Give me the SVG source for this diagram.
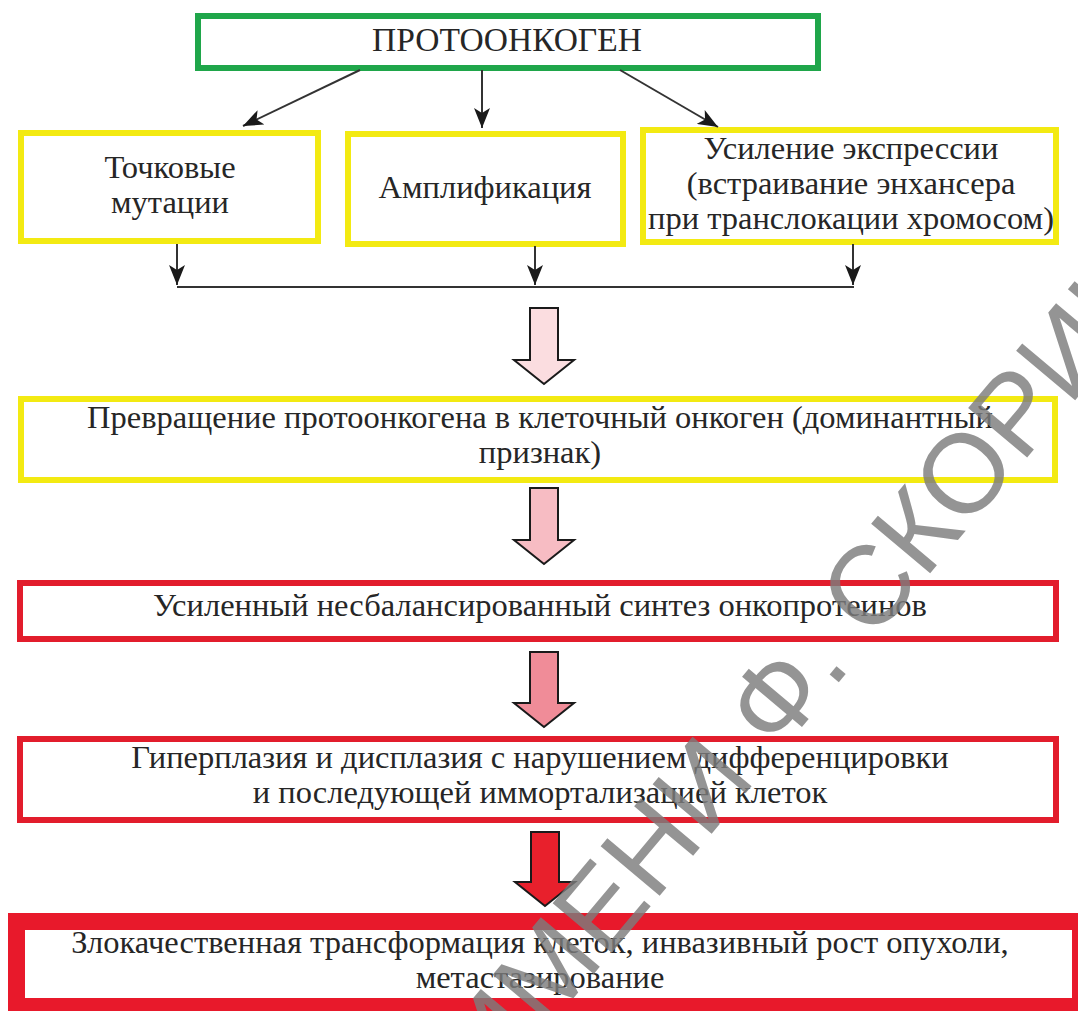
<svg xmlns="http://www.w3.org/2000/svg" width="1078" height="1011" viewBox="0 0 1078 1011">
  <style>
    .txt { font-family: "Liberation Serif", "Times New Roman", serif; font-size: 32.5px; fill: #262626; text-anchor: middle; }
    .title { font-size: 33.5px; }
    .box { fill: #ffffff; }
    .green { stroke: #1fa64a; stroke-width: 6; }
    .yellow { stroke: #f3ea12; stroke-width: 6; }
    .red { stroke: #e21d2c; stroke-width: 6; }
    .red-heavy { stroke: #e8192b; stroke-width: 17; }
    .thin { stroke: #333333; stroke-width: 2; fill: none; }
    .big { stroke: #1a1a1a; stroke-width: 2; stroke-linejoin: miter; }
    .mark { font-family: "Liberation Sans", Arial, sans-serif; font-size: 112px; fill: #7c7c7c; fill-opacity: 0.82; }
  </style>
  <defs>
    <marker id="head" viewBox="0 0 20 16" refX="20" refY="8" markerWidth="20" markerHeight="16" markerUnits="userSpaceOnUse" orient="auto">
      <path d="M0,0 L20,8 L0,16 L5,8 Z" fill="#1a1a1a"/>
    </marker>
  </defs>

  <rect width="1078" height="1011" fill="#ffffff"/>

  <!-- nodes -->
  <g id="protooncogene">
    <rect class="box green" x="198" y="16" width="620" height="52"/>
    <text class="txt title" x="507" y="51">ПРОТООНКОГЕН</text>
  </g>
  <g id="point-mutations">
    <rect class="box yellow" x="21" y="133" width="297" height="108"/>
    <text class="txt" x="170" y="178">Точковые</text>
    <text class="txt" x="170" y="213">мутации</text>
  </g>
  <g id="amplification">
    <rect class="box yellow" x="348" y="134" width="275" height="110"/>
    <text class="txt" x="485" y="198">Амплификация</text>
  </g>
  <g id="expression">
    <rect class="box yellow" x="643" y="130" width="413" height="112"/>
    <text class="txt" x="851" y="159">Усиление экспрессии</text>
    <text class="txt" x="851" y="194">(встраивание энхансера</text>
    <text class="txt" x="851" y="229">при транслокации хромосом)</text>
  </g>
  <g id="cell-oncogene">
    <rect class="box yellow" x="21" y="399" width="1034" height="81"/>
    <text class="txt" x="540" y="428">Превращение протоонкогена в клеточный онкоген (доминантный</text>
    <text class="txt" x="540" y="463">признак)</text>
  </g>
  <g id="oncoprotein-synthesis">
    <rect class="box red" x="20" y="583" width="1036" height="56"/>
    <text class="txt" x="540" y="616">Усиленный несбалансированный синтез онкопротеинов</text>
  </g>
  <g id="hyperplasia">
    <rect class="box red" x="20" y="739" width="1036" height="81"/>
    <text class="txt" x="540" y="768">Гиперплазия и дисплазия с нарушением дифференцировки</text>
    <text class="txt" x="540" y="803">и последующей иммортализацией клеток</text>
  </g>
  <g id="malignant">
    <rect class="box red-heavy" x="16.5" y="921.5" width="1064" height="85"/>
    <text class="txt" x="540" y="953">Злокачественная трансформация клеток, инвазивный рост опухоли,</text>
    <text class="txt" x="540" y="988">метастазирование</text>
  </g>

  <!-- connectors -->
  <g id="connectors">
    <line class="thin" x1="360" y1="70" x2="243" y2="126" marker-end="url(#head)"/>
    <line class="thin" x1="482" y1="70" x2="482" y2="128" marker-end="url(#head)"/>
    <line class="thin" x1="620" y1="70" x2="718" y2="127" marker-end="url(#head)"/>

    <line class="thin" x1="177" y1="244" x2="177" y2="285" marker-end="url(#head)"/>
    <line class="thin" x1="535" y1="246" x2="535" y2="285" marker-end="url(#head)"/>
    <line class="thin" x1="853" y1="244" x2="853" y2="285" marker-end="url(#head)"/>
    <line class="thin" x1="177" y1="287" x2="854" y2="287"/>

    <path class="big" fill="#fbdde0" d="M530,308 H558 V360 H574 L544,384 L514,360 H530 Z"/>
    <path class="big" fill="#f7bcc3" d="M530,488 H558 V540 H574 L544,564 L514,540 H530 Z"/>
    <path class="big" fill="#f08c98" d="M530,652 H558 V703 H574 L544,727 L514,703 H530 Z"/>
    <path class="big" fill="#e8202c" d="M531,832 H559 V882 H575 L545,906 L515,882 H531 Z"/>
  </g>

  <!-- library stamp across the page -->
  <text class="mark" transform="translate(494,1093) rotate(-50)">ИМЕНИ Ф. СКОРИНЫ</text>
</svg>
